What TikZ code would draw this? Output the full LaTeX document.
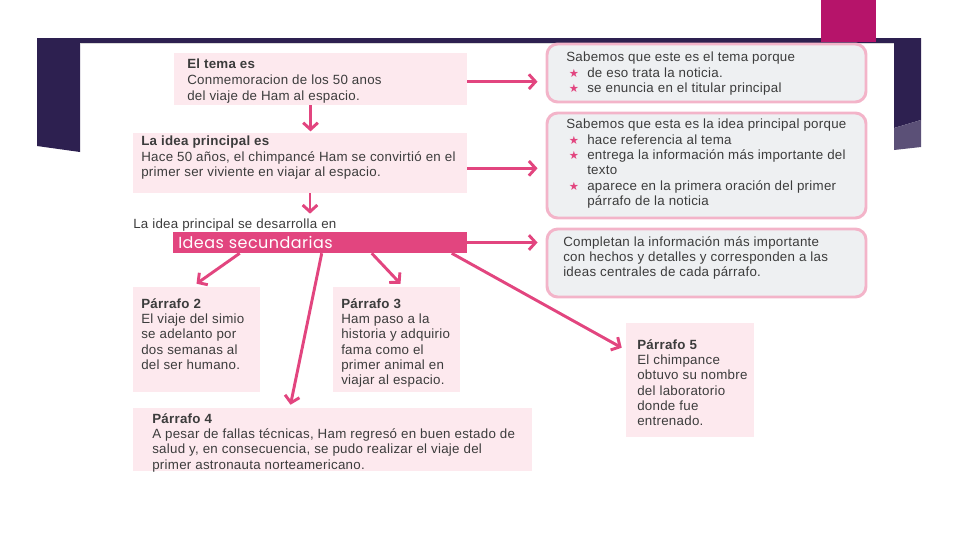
\documentclass[tikz,border=0pt]{standalone}
\usepackage{fontspec}
\setmainfont{Liberation Sans}[LetterSpace=2]
\newfontfamily\symfont{DejaVu Sans}
\newfontfamily\handfont{Poppins}[LetterSpace=3]
\usetikzlibrary{arrows.meta, calc, fit}

\definecolor{framepurple}{RGB}{45,32,80}
\definecolor{framelight}{RGB}{91,80,119}
\definecolor{magentatab}{RGB}{182,20,106}
\definecolor{notepink}{RGB}{253,233,238}
\definecolor{hotpink}{RGB}{226,69,127}
\definecolor{reasonfill}{RGB}{238,240,242}
\definecolor{reasonline}{RGB}{243,180,201}
\definecolor{bodytext}{RGB}{60,60,60}

\newcommand{\pstar}{\hspace*{2pt}\makebox[13.75pt][l]{\textcolor{hotpink}{\symfont\fontsize{8.5}{9}\selectfont ★}}}
\newcommand{\pindent}{\hspace*{15.75pt}}

\begin{document}
\begin{tikzpicture}[
    x=0.75pt, y=-0.75pt,
    note/.style={fill=notepink, inner sep=0pt},
    reason/.style={draw=reasonline, line width=2.2pt, fill=reasonfill, rounded corners=8pt, inner sep=0pt},
    txt/.style={anchor=north west, inner sep=0pt, align=left, text=bodytext, font=\fontsize{10}{11.5}\selectfont},
    arr/.style={draw=hotpink, line width=2.2pt, -{Straight Barb[length=5pt, width=11pt]}}
]
  \useasboundingbox (0,0) rectangle (960,540);

  % slide frame
  \fill[framepurple] (37,38) rectangle (921,43);
  \fill[framepurple] (37,38) -- (80,38) -- (80,152) -- (37,146) -- cycle;
  \fill[framepurple] (894,38) -- (921,38) -- (921,120) -- (894,128) -- cycle;
  \fill[framelight] (894,128) -- (921,120) -- (921,147) -- (894,150) -- cycle;
  \fill[magentatab] (821,0) rectangle (876,42);
  \draw[gray!30, line width=0.6pt] (80,43.5) -- (894,43.5);

  % left column
  \node[note, fit={(174,53) (467,105)}] (tema) {};
  \node[txt, font=\fontsize{10}{12}\selectfont] (tematxt) at (187,59) {\textbf{El tema es}\\Conmemoracion de los 50 anos\\del viaje de Ham al espacio.};

  \node[note, fit={(133,133) (467,193)}] (idea) {};
  \node[txt] (ideatxt) at (141,136) {\textbf{La idea principal es}\\Hace 50 años, el chimpancé Ham se convirtió en el\\primer ser viviente  en viajar al espacio.};

  \node[txt] (lead) at (133,219) {La idea principal se desarrolla en};

  \node[fill=hotpink, inner sep=0pt, fit={(173,232) (467,253)}] (ideas) {};
  \node[anchor=west, inner sep=0pt, text=white, font=\handfont\fontsize{12}{14}\selectfont] (ideastxt) at (178,242) {Ideas secundarias};

  \node[note, fit={(133,287) (260,392)}] (p2) {};
  \node[txt] (p2txt) at (141,298) {\textbf{Párrafo 2}\\El viaje del simio\\se adelanto por\\dos semanas al\\del ser humano.};

  \node[note, fit={(333,287) (460,392)}] (p3) {};
  \node[txt] (p3txt) at (341,298) {\textbf{Párrafo 3}\\Ham paso a la\\historia y adquirio\\fama como el\\primer animal en\\viajar al espacio.};

  \node[note, fit={(133,408) (532,471)}] (p4) {};
  \node[txt] (p4txt) at (152,413) {\textbf{Párrafo 4}\\A pesar de fallas técnicas, Ham regresó en buen estado de\\salud y, en consecuencia, se pudo realizar el viaje del\\primer astronauta norteamericano.};

  \node[note, fit={(626,323) (754,437)}] (p5) {};
  \node[txt] (p5txt) at (637,339) {\textbf{Párrafo 5}\\El chimpance\\obtuvo su nombre\\del laboratorio\\donde fue\\entrenado.};

  % right column
  \node[reason, fit={(547,44) (866,102)}] (why1) {};
  \node[txt] (why1txt) at (566,52) {Sabemos que este es el tema porque\\\pstar de eso trata la noticia.\\\pstar se enuncia en el titular principal};

  \node[reason, fit={(547,113) (866,218)}] (why2) {};
  \node[txt] (why2txt) at (566,119) {Sabemos que esta es la idea principal porque\\\pstar hace referencia al tema\\\pstar entrega la información más importante del\\\pindent texto\\\pstar aparece en la primera oración del primer\\\pindent párrafo de la noticia};

  \node[reason, fit={(547,229) (866,297)}] (why3) {};
  \node[txt] (why3txt) at (563,236) {Completan la información más importante\\con hechos y detalles y corresponden a las\\ideas centrales de cada párrafo.};

  % connectors
  \coordinate (temaout) at ($(tema.south)+(-10,0)$);
  \coordinate (ideaout) at ($(idea.south)+(10,0)$);
  \draw[arr, shorten >=1pt] (temaout) -- (temaout |- idea.north);
  \draw[arr, shorten >=4pt] (ideaout) -- (ideaout |- lead.north);

  \draw[arr, shorten >=6pt] ([yshift=-2pt]tema.east) -- ([yshift=-2pt]tema.east -| why1.west);
  \draw[arr, shorten >=6pt] ([yshift=-4pt]idea.east) -- ([yshift=-4pt]idea.east -| why2.west);
  \draw[arr, shorten >=6pt] (ideas.east) -- (ideas.east -| why3.west);

  \draw[arr] ($(ideas.south west)+(67,0)$) -- ($(p2.north)+(0,-3)$);
  \draw[arr] ($(ideas.south west)+(149,0)$) -- ($(p4.north)+(-42,-3)$);
  \draw[arr] ($(ideas.south west)+(199,0)$) -- ($(p3.north)+(4,-3)$);
  \draw[arr] ($(ideas.south west)+(279,0)$) -- ($(p5.north west)+(-4,25)$);
\end{tikzpicture}
\end{document}
